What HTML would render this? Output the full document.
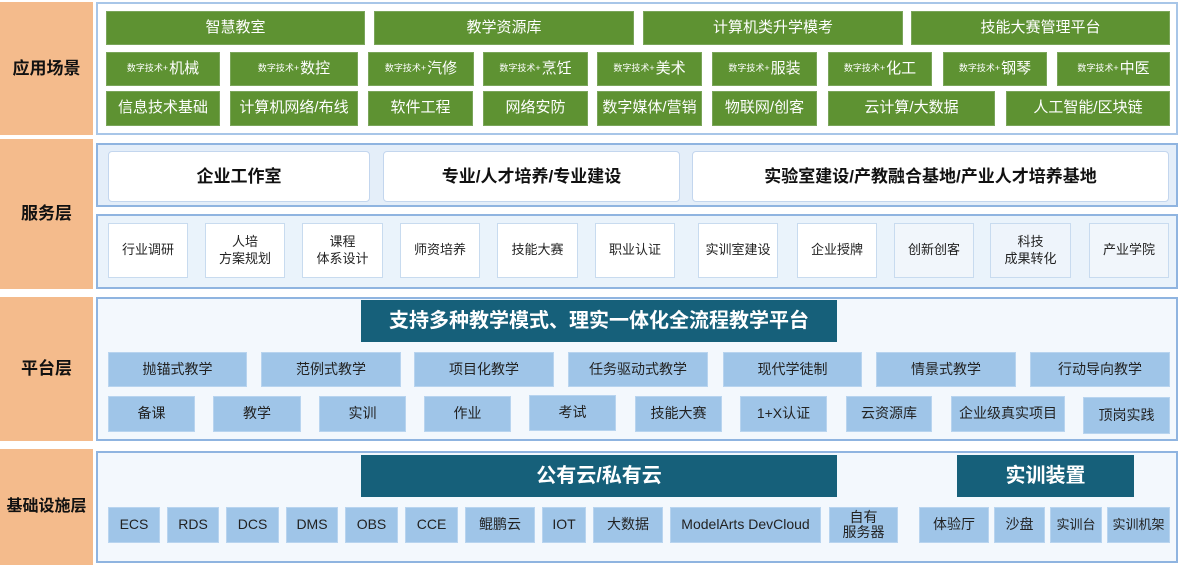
<!DOCTYPE html>
<html><head><meta charset="utf-8"><style>
*{margin:0;padding:0;box-sizing:border-box}
body{width:1179px;height:565px;background:#fff;position:relative;overflow:hidden;font-family:"Liberation Sans","Noto Sans CJK SC",sans-serif}
div{position:absolute}
.b{display:flex;align-items:center;justify-content:center;text-align:center;line-height:1.25}
.lab{background:#f4bb8c;font-weight:bold;font-size:17px;color:#111;left:0;width:93px}
.g{background:#5e9232;color:#fff;font-size:15px;border:1px solid #7aa55a}
.g small{font-size:9px;margin-right:1px}
.pn{border:2px solid #a8c6e8;background:#fff}
.pb{border:2px solid #8fb4e0;background:#f3f8fd}
.sv{background:#e4eef9;border:2px solid #8fb4e0}
.w{background:#fff;border:1.5px solid #c3d6ee;border-radius:4px;font-weight:bold;font-size:17px;color:#111}
.s{background:#fff;border:1.5px solid #c8dbef;font-size:13px;color:#222}
.lb{background:#9fc5e8;font-size:14px;color:#222;border:1px solid #b8d4ef}
.t{background:#16607a;color:#fff;font-weight:bold;font-size:20px}
</style></head><body>
<!-- labels -->
<div class="b lab" style="top:2px;height:133px">应用场景</div>
<div class="b lab" style="top:139px;height:150px">服务层</div>
<div class="b lab" style="top:297px;height:144px">平台层</div>
<div class="b lab" style="top:449px;height:116px;font-size:16px">基础设施层</div>

<!-- app panel -->
<div class="pn" style="left:96px;top:2px;width:1082px;height:133px"></div>
<div class="b g" style="left:106px;top:11px;width:259px;height:34px">智慧教室</div>
<div class="b g" style="left:374px;top:11px;width:260px;height:34px">教学资源库</div>
<div class="b g" style="left:643px;top:11px;width:260px;height:34px">计算机类升学模考</div>
<div class="b g" style="left:911px;top:11px;width:259px;height:34px">技能大赛管理平台</div>

<div class="b g" style="left:106px;top:52px;width:114px;height:34px"><small>数字技术+</small>机械</div>
<div class="b g" style="left:230px;top:52px;width:128px;height:34px"><small>数字技术+</small>数控</div>
<div class="b g" style="left:368px;top:52px;width:106px;height:34px"><small>数字技术+</small>汽修</div>
<div class="b g" style="left:483px;top:52px;width:105px;height:34px"><small>数字技术+</small>烹饪</div>
<div class="b g" style="left:597px;top:52px;width:105px;height:34px"><small>数字技术+</small>美术</div>
<div class="b g" style="left:712px;top:52px;width:105px;height:34px"><small>数字技术+</small>服装</div>
<div class="b g" style="left:828px;top:52px;width:104px;height:34px"><small>数字技术+</small>化工</div>
<div class="b g" style="left:943px;top:52px;width:104px;height:34px"><small>数字技术+</small>钢琴</div>
<div class="b g" style="left:1057px;top:52px;width:113px;height:34px"><small>数字技术+</small>中医</div>

<div class="b g" style="left:106px;top:91px;width:114px;height:35px">信息技术基础</div>
<div class="b g" style="left:230px;top:91px;width:128px;height:35px">计算机网络/布线</div>
<div class="b g" style="left:368px;top:91px;width:105px;height:35px">软件工程</div>
<div class="b g" style="left:483px;top:91px;width:105px;height:35px">网络安防</div>
<div class="b g" style="left:597px;top:91px;width:105px;height:35px">数字媒体/营销</div>
<div class="b g" style="left:712px;top:91px;width:105px;height:35px">物联网/创客</div>
<div class="b g" style="left:828px;top:91px;width:167px;height:35px">云计算/大数据</div>
<div class="b g" style="left:1006px;top:91px;width:164px;height:35px">人工智能/区块链</div>

<!-- service -->
<div class="sv" style="left:96px;top:143px;width:1082px;height:64px"></div>
<div class="b w" style="left:108px;top:151px;width:262px;height:51px">企业工作室</div>
<div class="b w" style="left:383px;top:151px;width:297px;height:51px">专业/人才培养/专业建设</div>
<div class="b w" style="left:692px;top:151px;width:477px;height:51px">实验室建设/产教融合基地/产业人才培养基地</div>

<div class="sv" style="left:96px;top:214px;width:1082px;height:75px;background:#eaf3fb"></div>
<div class="b s" style="left:108px;top:223px;width:80px;height:55px">行业调研</div>
<div class="b s" style="left:205px;top:223px;width:80px;height:55px">人培<br>方案规划</div>
<div class="b s" style="left:302px;top:223px;width:81px;height:55px">课程<br>体系设计</div>
<div class="b s" style="left:400px;top:223px;width:80px;height:55px">师资培养</div>
<div class="b s" style="left:497px;top:223px;width:81px;height:55px">技能大赛</div>
<div class="b s" style="left:595px;top:223px;width:80px;height:55px">职业认证</div>
<div class="b s" style="left:698px;top:223px;width:80px;height:55px">实训室建设</div>
<div class="b s" style="left:797px;top:223px;width:80px;height:55px">企业授牌</div>
<div class="b s" style="left:894px;top:223px;width:80px;height:55px;background:#f1f6fb">创新创客</div>
<div class="b s" style="left:990px;top:223px;width:81px;height:55px;background:#eef4fb">科技<br>成果转化</div>
<div class="b s" style="left:1089px;top:223px;width:80px;height:55px;background:#f1f6fb">产业学院</div>

<!-- platform -->
<div class="pb" style="left:96px;top:297px;width:1082px;height:144px"></div>
<div class="b t" style="left:361px;top:300px;width:476px;height:42px">支持多种教学模式、理实一体化全流程教学平台</div>
<div class="b lb" style="left:108px;top:352px;width:139px;height:35px">抛锚式教学</div>
<div class="b lb" style="left:261px;top:352px;width:140px;height:35px">范例式教学</div>
<div class="b lb" style="left:414px;top:352px;width:140px;height:35px">项目化教学</div>
<div class="b lb" style="left:568px;top:352px;width:140px;height:35px">任务驱动式教学</div>
<div class="b lb" style="left:723px;top:352px;width:139px;height:35px">现代学徒制</div>
<div class="b lb" style="left:876px;top:352px;width:140px;height:35px">情景式教学</div>
<div class="b lb" style="left:1030px;top:352px;width:140px;height:35px">行动导向教学</div>

<div class="b lb" style="left:108px;top:396px;width:87px;height:36px">备课</div>
<div class="b lb" style="left:213px;top:396px;width:88px;height:36px">教学</div>
<div class="b lb" style="left:319px;top:396px;width:87px;height:36px">实训</div>
<div class="b lb" style="left:424px;top:396px;width:87px;height:36px">作业</div>
<div class="b lb" style="left:529px;top:395px;width:87px;height:36px">考试</div>
<div class="b lb" style="left:635px;top:396px;width:87px;height:36px">技能大赛</div>
<div class="b lb" style="left:740px;top:396px;width:87px;height:36px">1+X认证</div>
<div class="b lb" style="left:846px;top:396px;width:86px;height:36px">云资源库</div>
<div class="b lb" style="left:951px;top:396px;width:114px;height:36px">企业级真实项目</div>
<div class="b lb" style="left:1083px;top:397px;width:87px;height:37px">顶岗实践</div>

<!-- infra -->
<div class="pb" style="left:96px;top:451px;width:1082px;height:112px"></div>
<div class="b t" style="left:361px;top:455px;width:476px;height:42px">公有云/私有云</div>
<div class="b t" style="left:957px;top:455px;width:177px;height:42px">实训装置</div>
<div class="b lb" style="left:108px;top:507px;width:52px;height:36px">ECS</div>
<div class="b lb" style="left:167px;top:507px;width:52px;height:36px">RDS</div>
<div class="b lb" style="left:226px;top:507px;width:53px;height:36px">DCS</div>
<div class="b lb" style="left:286px;top:507px;width:52px;height:36px">DMS</div>
<div class="b lb" style="left:345px;top:507px;width:53px;height:36px">OBS</div>
<div class="b lb" style="left:405px;top:507px;width:53px;height:36px">CCE</div>
<div class="b lb" style="left:465px;top:507px;width:70px;height:36px">鲲鹏云</div>
<div class="b lb" style="left:542px;top:507px;width:44px;height:36px">IOT</div>
<div class="b lb" style="left:593px;top:507px;width:70px;height:36px">大数据</div>
<div class="b lb" style="left:670px;top:507px;width:151px;height:36px">ModelArts DevCloud</div>
<div class="b lb" style="left:829px;top:507px;width:69px;height:36px;line-height:1.1">自有<br>服务器</div>
<div class="b lb" style="left:919px;top:507px;width:70px;height:36px">体验厅</div>
<div class="b lb" style="left:994px;top:507px;width:51px;height:36px">沙盘</div>
<div class="b lb" style="left:1050px;top:507px;width:52px;height:36px;font-size:13px">实训台</div>
<div class="b lb" style="left:1107px;top:507px;width:63px;height:36px;font-size:13px">实训机架</div>
</body></html>
